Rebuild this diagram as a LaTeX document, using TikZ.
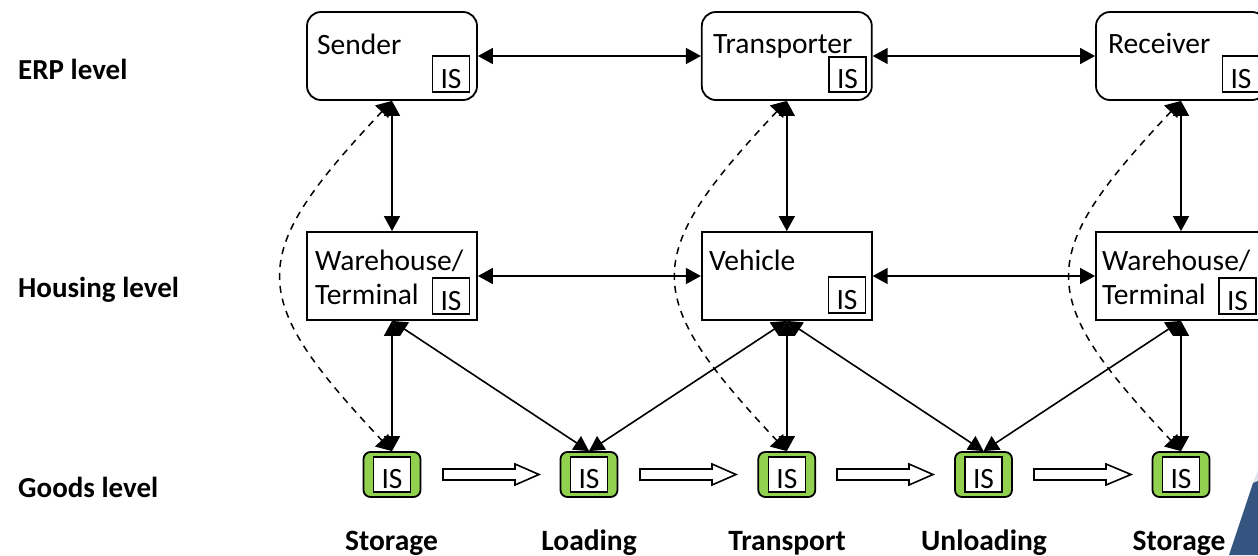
\documentclass[tikz,border=0pt]{standalone}
\usepackage{fontspec}
\setmainfont{Carlito}
\usetikzlibrary{arrows.meta,calc,bending}
\definecolor{goodsgreen}{HTML}{92D050}
\definecolor{cornerblue}{HTML}{34557F}
\definecolor{cornerpale}{HTML}{DCE3EC}
\tikzset{
  x=1pt,y=-1pt,
  roundbox/.style={draw=black,line width=1.8pt,rounded corners=14pt,minimum width=170pt,minimum height=88pt,inner sep=0pt},
  housebox/.style={draw=black,line width=1.8pt,minimum width=170pt,minimum height=88pt,inner sep=0pt},
  isbox/.style={draw=black,line width=1.6pt,minimum width=37pt,minimum height=35.5pt,inner sep=0pt,font=\fontsize{29.5}{30}\selectfont,text depth=0pt,text height=28pt},
  goodsbox/.style={draw=black,line width=1.8pt,fill=goodsgreen,rounded corners=7pt,minimum width=57pt,minimum height=45pt,inner sep=0pt},
  innerbox/.style={isbox,fill=white},
  boxlabel/.style={anchor=base west,inner sep=0pt,font=\fontsize{29.5}{30}\selectfont},
  levellabel/.style={anchor=base west,inner sep=0pt,font=\fontsize{29}{30}\selectfont\bfseries},
  stagelabel/.style={anchor=base,inner sep=0pt,font=\fontsize{29.5}{30}\selectfont\bfseries},
  link/.style={line width=1.6pt,{Triangle[length=15pt,width=16pt]}-{Triangle[length=15pt,width=16pt]}},
  dashlink/.style={line width=1.5pt,dash pattern=on 7pt off 6pt,{Triangle[length=15pt,width=18pt,flex=0]}-{Triangle[length=15pt,width=18pt,flex=0]}},
  flow/.style={draw=black,line width=1.6pt,fill=white,line join=miter},
}
\newcommand{\flowarrow}[2]{%
  \draw[flow] (#1,469) -- (#1+72,469) -- (#1+72,464) -- (#2,474.5) -- (#1+72,485) -- (#1+72,480) -- (#1,480) -- cycle;}
\begin{document}
\begin{tikzpicture}
\useasboundingbox (0,0) rectangle (1258,555);
\clip (0,0) rectangle (1258,555);
% corner decoration
\fill[cornerpale] (1253,483) -- (1258,470) -- (1258,481) -- cycle;
\fill[cornerblue] (1229,555) -- (1253,483) -- (1258,481) -- (1258,555) -- cycle;
% top row
\node[roundbox] (sender) at (392,56) {};
\node[roundbox] (transporter) at (786.8,56) {};
\node[roundbox] (receiver) at (1181,56) {};
% middle row
\node[housebox] (wh1) at (392,276) {};
\node[housebox] (vehicle) at (786.8,276) {};
\node[housebox] (wh2) at (1181,276) {};
% goods row
\node[goodsbox] (g1) at (392,474.5) {};
\node[goodsbox] (g2) at (589,474.5) {};
\node[goodsbox] (g3) at (786.8,474.5) {};
\node[goodsbox] (g4) at (983.5,474.5) {};
\node[goodsbox] (g5) at (1181,474.5) {};
% box texts
\node[boxlabel] (tsender) at (317,54) {Sender};
\node[boxlabel] (ttrans) at (713,53) {Transporter};
\node[boxlabel] (trecv) at (1108,53) {Receiver};
\node[boxlabel] (twh1a) at (315,270) {Warehouse/};
\node[boxlabel] (twh1b) at (315,304) {Terminal};
\node[boxlabel] (tveh) at (709,270) {Vehicle};
\node[boxlabel] (twh2a) at (1102,270) {Warehouse/};
\node[boxlabel] (twh2b) at (1102,304) {Terminal};
% IS boxes
\node[isbox] (is1) at (451,74) {IS};
\node[isbox] (is2) at (847.5,74.5) {IS};
\node[isbox] (is3) at (1241,74) {IS};
\node[isbox] (is4) at (451,296) {IS};
\node[isbox] (is5) at (847,295) {IS};
\node[isbox] (is6) at (1237.5,296) {IS};
\node[innerbox] (is7) at (392,474.5) {IS};
\node[innerbox] (is8) at (589,474.5) {IS};
\node[innerbox] (is9) at (786.8,474.5) {IS};
\node[innerbox] (is10) at (983.5,474.5) {IS};
\node[innerbox] (is11) at (1181,474.5) {IS};
% links
\draw[link] (sender) -- (transporter);
\draw[link] (transporter) -- (receiver);
\draw[link] (wh1) -- (vehicle);
\draw[link] (vehicle) -- (wh2);
\draw[link] (sender) -- (wh1);
\draw[link] (transporter) -- (vehicle);
\draw[link] (receiver) -- (wh2);
\draw[link] (wh1.south) -- (g1.north);
\draw[link] (wh1.south) -- (g2.north);
\draw[link] (vehicle.south) -- (g2.north);
\draw[link] (vehicle.south) -- (g3.north);
\draw[link] (vehicle.south) -- (g4.north);
\draw[link] (wh2.south) -- (g4.north);
\draw[link] (wh2.south) -- (g5.north);
% dashed
\draw[dashlink] (sender.south) .. controls +(-150,158) and +(-150,-158) .. (g1.north);
\draw[dashlink] (transporter.south) .. controls +(-150,158) and +(-150,-158) .. (g3.north);
\draw[dashlink] (receiver.south) .. controls +(-150,158) and +(-150,-158) .. (g5.north);
% flow arrows
\flowarrow{443}{539}
\flowarrow{640}{736}
\flowarrow{837}{933}
\flowarrow{1034}{1131}
% level labels
\node[levellabel] (l1) at (18,79) {ERP level};
\node[levellabel] (l2) at (18,297) {Housing level};
\node[levellabel] (l3) at (18,497) {Goods level};
% stage labels
\node[stagelabel] (s1) at (391.5,550) {Storage};
\node[stagelabel] (s2) at (589,550) {Loading};
\node[stagelabel] (s3) at (787,550) {Transport};
\node[stagelabel] (s4) at (984,550) {Unloading};
\node[stagelabel] (s5) at (1179,550) {Storage};
\end{tikzpicture}
\end{document}
